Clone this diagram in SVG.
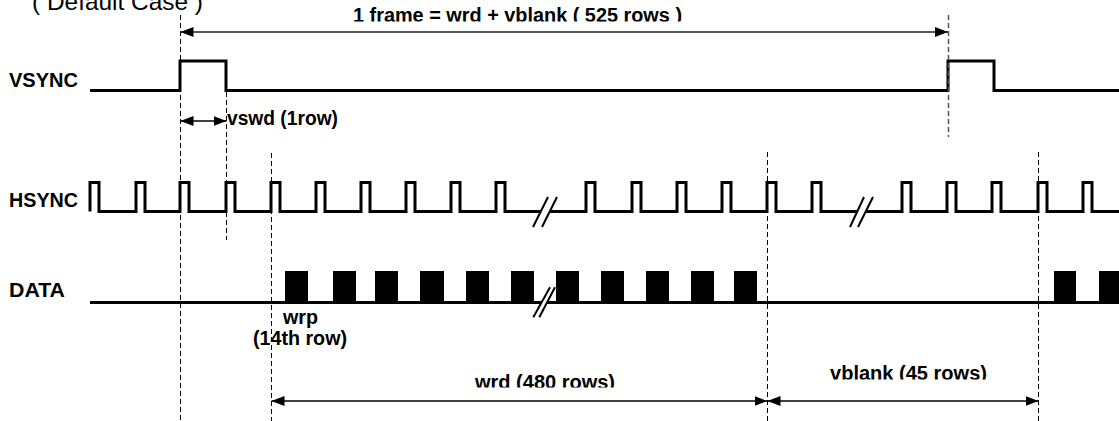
<svg xmlns="http://www.w3.org/2000/svg" width="1119" height="421" viewBox="0 0 1119 421">
  <style>
    .sig { fill: none; stroke: #000; stroke-width: 3; stroke-linejoin: miter; stroke-linecap: butt; }
    .brk { fill: none; stroke: #000; stroke-width: 2; }
    .dash { fill: none; stroke: #000; stroke-width: 1; stroke-dasharray: 5 3; }
    .dim { fill: none; stroke: #000; stroke-width: 1.6; marker-start: url(#ah); marker-end: url(#ah); }
    .lbl { font-family: "Liberation Sans", Arial, sans-serif; font-weight: bold; font-size: 20px; fill: #000; }
    .ttl { font-family: "Liberation Sans", Arial, sans-serif; font-weight: normal; font-size: 24px; fill: #000; }
    .blk { fill: #000; }
  </style>
  <defs>
    <marker id="ah" viewBox="0 0 13 10" refX="13" refY="5" markerWidth="13" markerHeight="10" markerUnits="userSpaceOnUse" orient="auto-start-reverse">
      <path d="M0,0 L13,5 L0,10 z" fill="#000"/>
    </marker>
    <clipPath id="clipFrame"><rect x="300" y="0" width="450" height="21.5"/></clipPath>
    <clipPath id="clipWrd"><rect x="400" y="350" width="300" height="37.5"/></clipPath>
    <clipPath id="clipVbl"><rect x="800" y="340" width="220" height="39.5"/></clipPath>
  </defs>
  <rect x="0" y="0" width="1119" height="421" fill="#fff"/>

  <g id="title">
    <text class="ttl" x="32" y="9.5" textLength="171" lengthAdjust="spacingAndGlyphs">( Default Case )</text>
  </g>

  <g id="vsync">
    <text class="lbl" x="9" y="86.5" textLength="69" lengthAdjust="spacingAndGlyphs">VSYNC</text>
    <path class="sig" d="M90,90.5 H180 V61 H226 V90.5 H948 V61 H994 V90.5 H1119"/>
  </g>

  <g id="hsync">
    <text class="lbl" x="9" y="207" textLength="69" lengthAdjust="spacingAndGlyphs">HSYNC</text>
    <path class="sig" d="M90,211.5 V182.5 H99 V211.5 H136 V182.5 H145 V211.5 H180 V182.5 H189 V211.5 H226 V182.5 H235 V211.5 H271 V182.5 H280 V211.5 H316 V182.5 H325 V211.5 H361 V182.5 H370 V211.5 H406 V182.5 H415 V211.5 H451 V182.5 H460 V211.5 H496 V182.5 H505 V211.5 H541"/>
    <path class="sig" d="M550,211.5 H586 V182.5 H595 V211.5 H632 V182.5 H641 V211.5 H677 V182.5 H686 V211.5 H722 V182.5 H731 V211.5 H767 V182.5 H776 V211.5 H812 V182.5 H821 V211.5 H857.5"/>
    <path class="sig" d="M866,211.5 H902 V182.5 H911 V211.5 H947 V182.5 H956 V211.5 H992 V182.5 H1001 V211.5 H1038 V182.5 H1047 V211.5 H1083 V182.5 H1092 V211.5 H1119"/>
    <path class="brk" d="M533,227 L548,197 M542,227 L557,197"/>
    <path class="brk" d="M850,227 L864,197 M858,227 L873,197"/>
  </g>

  <g id="data">
    <text class="lbl" x="9" y="297" textLength="56" lengthAdjust="spacingAndGlyphs">DATA</text>
    <rect class="blk" x="285" y="271" width="23" height="33"/>
    <rect class="blk" x="333" y="271" width="23" height="33"/>
    <rect class="blk" x="375" y="271" width="23" height="33"/>
    <rect class="blk" x="420" y="271" width="24" height="33"/>
    <rect class="blk" x="466" y="271" width="23" height="33"/>
    <rect class="blk" x="511" y="271" width="23" height="33"/>
    <rect class="blk" x="556" y="271" width="23" height="33"/>
    <rect class="blk" x="601" y="271" width="23" height="33"/>
    <rect class="blk" x="646" y="271" width="23" height="33"/>
    <rect class="blk" x="691" y="271" width="23" height="33"/>
    <rect class="blk" x="734" y="271" width="23" height="33"/>
    <rect class="blk" x="1054" y="271" width="22" height="33"/>
    <rect class="blk" x="1099" y="271" width="20" height="33"/>
    <path class="sig" d="M90,302.5 H541.5 M547,302.5 H1119"/>
    <path class="brk" d="M533.3,317.3 L550,287.3 M539.3,317.3 L555,287.3"/>
  </g>

  <g id="connectors">
    <line class="dash" x1="180.5" y1="15" x2="180.5" y2="421"/>
    <line class="dash" x1="226.5" y1="92" x2="226.5" y2="240"/>
    <line class="dash" x1="271.5" y1="153" x2="271.5" y2="421"/>
    <line class="dash" x1="767.5" y1="152" x2="767.5" y2="421"/>
    <line class="dash" x1="948.5" y1="15" x2="948.5" y2="137" style="stroke:#555;stroke-width:1.5"/>
    <line class="dash" x1="1038.5" y1="152" x2="1038.5" y2="421"/>

    <line class="dim" x1="180.5" y1="32" x2="948" y2="32" style="stroke:#222"/>
    <line class="dim" x1="180.5" y1="121" x2="226.5" y2="121"/>
    <line class="dim" x1="271.5" y1="401" x2="767.5" y2="401"/>
    <line class="dim" x1="767.5" y1="401" x2="1038.5" y2="401"/>
  </g>

  <g id="labels">
    <text class="lbl" x="353" y="21.5" textLength="329" lengthAdjust="spacingAndGlyphs" clip-path="url(#clipFrame)">1 frame = wrd + vblank ( 525 rows )</text>
    <text class="lbl" x="227" y="125" textLength="111" lengthAdjust="spacingAndGlyphs">vswd (1row)</text>
    <text class="lbl" x="283" y="324" textLength="35" lengthAdjust="spacingAndGlyphs">wrp</text>
    <text class="lbl" x="253" y="344.5" textLength="94" lengthAdjust="spacingAndGlyphs">(14th row)</text>
    <text class="lbl" x="475" y="389" textLength="140" lengthAdjust="spacingAndGlyphs" clip-path="url(#clipWrd)">wrd (480 rows)</text>
    <text class="lbl" x="830" y="380" textLength="157" lengthAdjust="spacingAndGlyphs" clip-path="url(#clipVbl)">vblank (45 rows)</text>
  </g>
</svg>
